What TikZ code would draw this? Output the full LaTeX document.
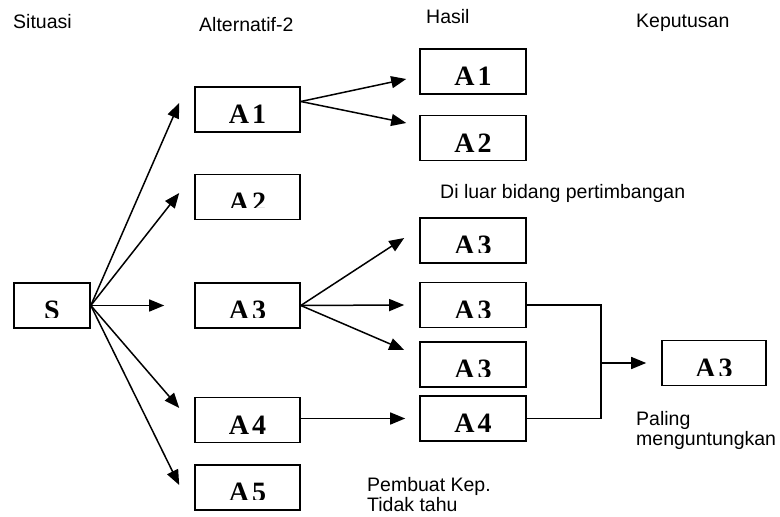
\documentclass[tikz,border=0pt]{standalone}
\usepackage{fontspec}
\setmainfont{Liberation Serif}
\newfontfamily\labelfont{Liberation Sans}
\usetikzlibrary{arrows.meta,calc}

% box with a bold label that is clipped a little above the bottom edge
\newcommand\optbox[6]{% name, centre x, centre y, width, label, clip height above bottom
  \node[optbox, minimum width=#4pt] (#1) at (#2,#3) {};
  \begin{scope}
    \clip ([xshift=1pt,yshift=-1pt]#1.north west) rectangle ([xshift=-1pt,yshift=#6pt]#1.south east);
    \node[boxtext] at ([yshift=9pt]#1.south) {#5};
  \end{scope}
}
\newcommand\pair[2]{#1\kern3pt#2}

\begin{document}
\begin{tikzpicture}[x=1pt,y=-1pt,
  optbox/.style={draw, line width=1.6pt, minimum height=45pt, inner sep=0pt},
  boxtext/.style={anchor=base, inner sep=0pt, font=\bfseries\fontsize{28}{28}\selectfont},
  caption/.style={anchor=base west, inner sep=0pt, font=\labelfont\fontsize{19.5}{20}\selectfont},
  arr/.style={line width=1.5pt, -{Triangle[length=15pt,width=12pt]}},
  link/.style={line width=1.5pt}]

\fill[white] (0,0) rectangle (780,517);
\useasboundingbox (0,0) rectangle (780,517);

% column headings
\node[caption] (hS) at (13,28) {Situasi};
\node[caption] (hA) at (199,31) {Alternatif-2};
\node[caption] (hH) at (426,23) {Hasil};
\node[caption] (hK) at (636,27) {Keputusan};

% situation
\optbox{S}{52}{305.5}{76}{S}{11}

% alternatives
\optbox{a1}{247.5}{109.5}{105}{\pair A1}{2}
\optbox{a2}{247.5}{197}{105}{\pair A2}{13}
\optbox{a3}{247.5}{305.5}{105}{\pair A3}{11}
\optbox{a4}{247.5}{420}{105}{\pair A4}{2}
\optbox{a5}{247.5}{487.5}{105}{\pair A5}{11}

% outcomes
\optbox{h1}{473}{71.5}{106}{\pair A1}{2}
\optbox{h2}{473}{138}{106}{\pair A2}{2}
\optbox{h3}{473}{240.5}{106}{\pair A3}{11}
\optbox{h4}{473}{305}{106}{\pair A3}{11}
\optbox{h5}{473}{364.5}{106}{\pair A3}{11}
\optbox{h6}{473}{418.5}{106}{\pair A4}{2}

% decision
\optbox{k}{714}{363}{104}{\pair A3}{11}

% notes
\node[caption] (nDi) at (440,198) {Di luar bidang pertimbangan};
\node[caption] (nP1) at (636,425) {Paling};
\node[caption] (nP2) at (636,445) {menguntungkan};
\node[caption] (nT1) at (367,491) {Pembuat Kep.};
\node[caption] (nT2) at (367,511) {Tidak tahu};

% situation to alternatives
\draw[arr] (S.east) -- ([xshift=-15pt,yshift=6.5pt]a1.west);
\draw[arr] (S.east) -- ([xshift=-15pt,yshift=4pt]a2.west);
\draw[arr] (S.east) -- ([xshift=-30pt]a3.west);
\draw[arr] (S.east) -- ([xshift=-15pt,yshift=12pt]a4.west);
\draw[arr] (S.east) -- ([xshift=-15pt,yshift=2.5pt]a5.west);

% alternatives to outcomes
\draw[arr] ([yshift=8pt]a1.east) -- ([xshift=-13pt,yshift=-7.5pt]h1.west);
\draw[arr] ([yshift=8pt]a1.east) -- ([xshift=-13pt,yshift=15pt]h2.west);
\draw[arr] (a3.east) -- ([xshift=-15pt,yshift=2.5pt]h3.west);
\draw[arr] (a3.east) -- ([xshift=-15pt]h4.west);
\draw[arr] (a3.east) -- ([xshift=-15pt,yshift=14.5pt]h5.west);
\draw[arr] (h6.west -| a4.east) -- ([xshift=-14pt]h6.west);

% outcomes joined into the decision
\coordinate (jn) at (601,363);
\draw[link] (h4.east) -| (jn) |- (h6.east);
\draw[arr] (jn) -- ([xshift=-15pt]k.west);
\end{tikzpicture}
\end{document}
